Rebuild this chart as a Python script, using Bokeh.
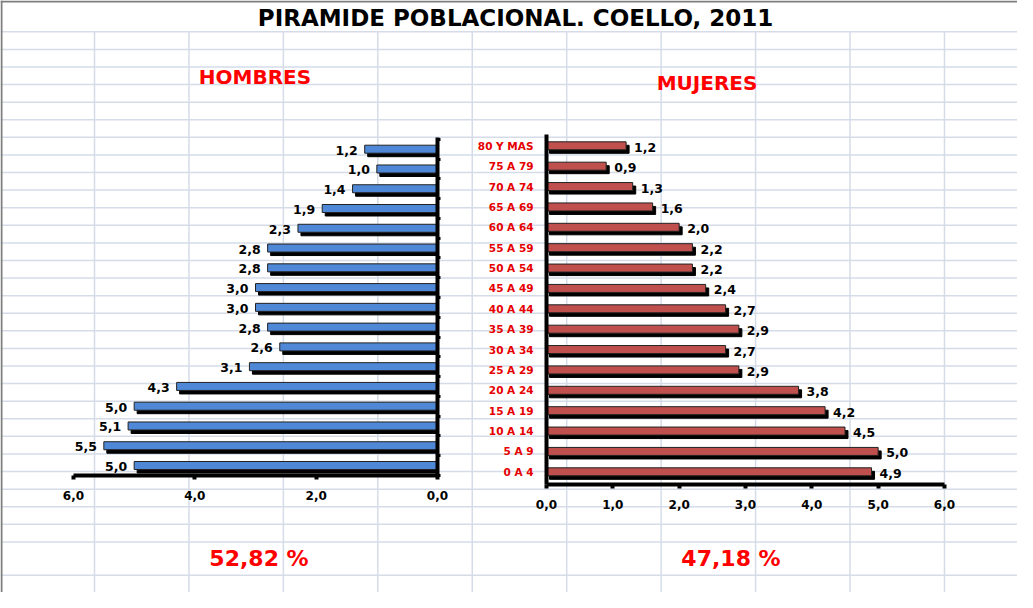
from bokeh.plotting import figure
from bokeh.models import Range1d, LinearAxis, FixedTicker, CustomJSTickFormatter
from bokeh.core.properties import value
from bokeh.embed import file_html
from bokeh.resources import INLINE

# ---------------- data ----------------
title_text = "PIRAMIDE POBLACIONAL.  COELLO, 2011"
label_h = "HOMBRES"
label_m = "MUJERES"
age_groups = ["80 Y MAS", "75 A 79", "70 A 74", "65 A 69", "60 A 64", "55 A 59",
              "50 A 54", "45 A 49", "40 A 44", "35 A 39", "30 A 34", "25 A 29",
              "20 A 24", "15 A 19", "10 A 14", "5 A 9", "0 A 4"]
hombres = [1.2, 1.0, 1.4, 1.9, 2.3, 2.8, 2.8, 3.0, 3.0, 2.8, 2.6, 3.1, 4.3, 5.0, 5.1, 5.5, 5.0]
mujeres = [1.2, 0.9, 1.3, 1.6, 2.0, 2.2, 2.2, 2.4, 2.7, 2.9, 2.7, 2.9, 3.8, 4.2, 4.5, 5.0, 4.9]
ticks_h = [0, 2, 4, 6]
ticks_m = [0, 1, 2, 3, 4, 5, 6]
pct_h = "52,82 %"
pct_m = "47,18 %"

# ---------------- layout ----------------
W, H = 1017, 592
L, T = 8, 8
R, B = L + W, T + H
FONT = value("DejaVu Sans")
n = len(age_groups)
idx = list(range(n))


def lin_range(px_a, px_b, val_a, val_b, lo, hi):
    s = (val_b - val_a) / (px_b - px_a)
    return Range1d(start=val_a + (lo - px_a) * s, end=val_a + (hi - px_a) * s)


def fmt(v):
    return f"{v:.1f}".replace(".", ",")


p = figure(width=W, height=H, x_range=Range1d(L, R), y_range=Range1d(B, T),
           x_axis_type=None, y_axis_type=None, toolbar_location=None,
           output_backend="svg", min_border=0, outline_line_color=None,
           background_fill_color="white", border_fill_color="white")

# pixel anchors of each panel
HX0, HX6 = 445, 81       # men: value 0 / 6
MX0, MX6 = 554, 952      # women: value 0 / 6
HY0, HY16 = 156.7, 473.0  # men rows first / last
MY0, MY16 = 153.3, 479.3  # women rows first / last
h_step = (HY16 - HY0) / (n - 1)
m_step = (MY16 - MY0) / (n - 1)
h_px = (HX0 - HX6) / 6.0
m_px = (MX6 - MX0) / 6.0

p.extra_x_ranges = {"hx": lin_range(HX0, HX6, 0, 6, L, R),
                    "mx": lin_range(MX0, MX6, 0, 6, L, R)}
p.extra_y_ranges = {"hy": lin_range(HY0, HY16, 0, n - 1, B, T),
                    "my": lin_range(MY0, MY16, 0, n - 1, B, T)}

# ---------------- spreadsheet background ----------------
grid_c = "#D5DCE8"
hy_lines = [39.3 + 17.59 * k for k in range(30)] + [582.7]
p.segment(x0=[L] * len(hy_lines), x1=[R] * len(hy_lines), y0=hy_lines, y1=hy_lines,
          line_color=grid_c, line_width=1.5)
vx_lines = [102 + 94.44 * k for k in range(10)]
p.segment(x0=vx_lines, x1=vx_lines, y0=[39.3] * len(vx_lines), y1=[B] * len(vx_lines),
          line_color=grid_c, line_width=1.5)
p.segment(x0=[L + 1, L], x1=[L + 1, R], y0=[T, T + 1], y1=[B, T + 1],
          line_color="#7F7F7F", line_width=2)

# ---------------- bars ----------------
bh = 8.0  # bar thickness, px
dx_sh, dy_sh = 3.0, 3.5
# men (shadow then face)
p.hbar(y=[i + dy_sh / h_step for i in idx],
       left=[v - dx_sh / h_px for v in hombres], right=[0] * n,
       height=bh / h_step, fill_color="black", line_color="black",
       x_range_name="hx", y_range_name="hy")
p.hbar(y=idx, left=hombres, right=[0] * n, height=bh / h_step,
       fill_color="#4F88D6", line_color="#222222", line_width=1,
       x_range_name="hx", y_range_name="hy")
# women
p.hbar(y=[i + dy_sh / m_step for i in idx],
       left=[dx_sh / m_px] * n, right=[v + dx_sh / m_px for v in mujeres],
       height=bh / m_step, fill_color="black", line_color="black",
       x_range_name="mx", y_range_name="my")
p.hbar(y=idx, left=[0] * n, right=mujeres, height=bh / m_step,
       fill_color="#C0504D", line_color="#222222", line_width=1,
       x_range_name="mx", y_range_name="my")

# value labels
p.text(x=hombres, y=idx, text=[fmt(v) for v in hombres], x_range_name="hx", y_range_name="hy",
       text_align="right", text_baseline="middle", x_offset=-7, y_offset=1,
       text_font=FONT, text_font_style="bold", text_font_size="12.5px", text_color="black")
p.text(x=mujeres, y=idx, text=[fmt(v) for v in mujeres], x_range_name="mx", y_range_name="my",
       text_align="left", text_baseline="middle", x_offset=8, y_offset=1.5,
       text_font=FONT, text_font_style="bold", text_font_size="12.5px", text_color="black")

# ---------------- axes ----------------
def style_axis(ax):
    ax.axis_line_color = "black"
    ax.axis_line_width = 4
    ax.major_tick_line_color = "black"
    ax.major_tick_line_width = 4
    ax.major_tick_in = 0
    ax.major_tick_out = 4
    ax.minor_tick_in = 0
    ax.minor_tick_out = 0
    ax.major_label_text_font = "DejaVu Sans"
    ax.major_label_text_font_style = "bold"
    ax.major_label_text_font_size = "12px"
    ax.major_label_text_color = "black"


ax_hx = LinearAxis(x_range_name="hx", y_range_name="hy", fixed_location=n - 0.48,
                   bounds=(0, 6), ticker=FixedTicker(ticks=ticks_h),
                   major_label_overrides={t: fmt(t) for t in ticks_h})
style_axis(ax_hx)
ax_hx.major_label_standoff = 11
p.add_layout(ax_hx, "below")

ax_hy = LinearAxis(x_range_name="hx", y_range_name="hy", fixed_location=0,
                   bounds=(-0.59, n - 0.48),
                   ticker=FixedTicker(ticks=[k - 0.5 for k in range(n + 1)]),
                   formatter=CustomJSTickFormatter(code="return ''"))
style_axis(ax_hy)
ax_hy.major_tick_out = 3
ax_hy.major_tick_line_width = 3
p.add_layout(ax_hy, "right")

ax_mx = LinearAxis(x_range_name="mx", y_range_name="my", fixed_location=n - 0.4,
                   bounds=(0, 6), ticker=FixedTicker(ticks=ticks_m),
                   major_label_overrides={t: fmt(t) for t in ticks_m})
style_axis(ax_mx)
ax_mx.major_label_standoff = 12
p.add_layout(ax_mx, "below")

ax_my = LinearAxis(x_range_name="mx", y_range_name="my", fixed_location=0,
                   bounds=(-0.57, n - 0.4), ticker=FixedTicker(ticks=idx),
                   major_label_overrides={i: g for i, g in zip(idx, age_groups)})
style_axis(ax_my)
ax_my.major_tick_out = 0
ax_my.major_label_standoff = 13
ax_my.major_label_text_font_size = "10.5px"
ax_my.major_label_text_color = "#E60000"
p.add_layout(ax_my, "left")

# ---------------- titles ----------------
p.text(x=[527], y=[25], text=[title_text], text_align="center", text_baseline="middle",
       text_font=FONT, text_font_style="bold", text_font_size="23px", text_color="black")
p.text(x=[262.5, 714.5], y=[84, 90.5], text=[label_h, label_m], text_align="center",
       text_baseline="middle", text_font=FONT, text_font_style="bold",
       text_font_size="20px", text_color="#FF0000")
p.text(x=[266.5, 738.5], y=[565.5, 566], text=[pct_h, pct_m], text_align="center",
       text_baseline="middle", text_font=FONT, text_font_style="bold",
       text_font_size="22px", text_color="#FF0000")

open("out.html", "w").write(file_html(p, INLINE))
